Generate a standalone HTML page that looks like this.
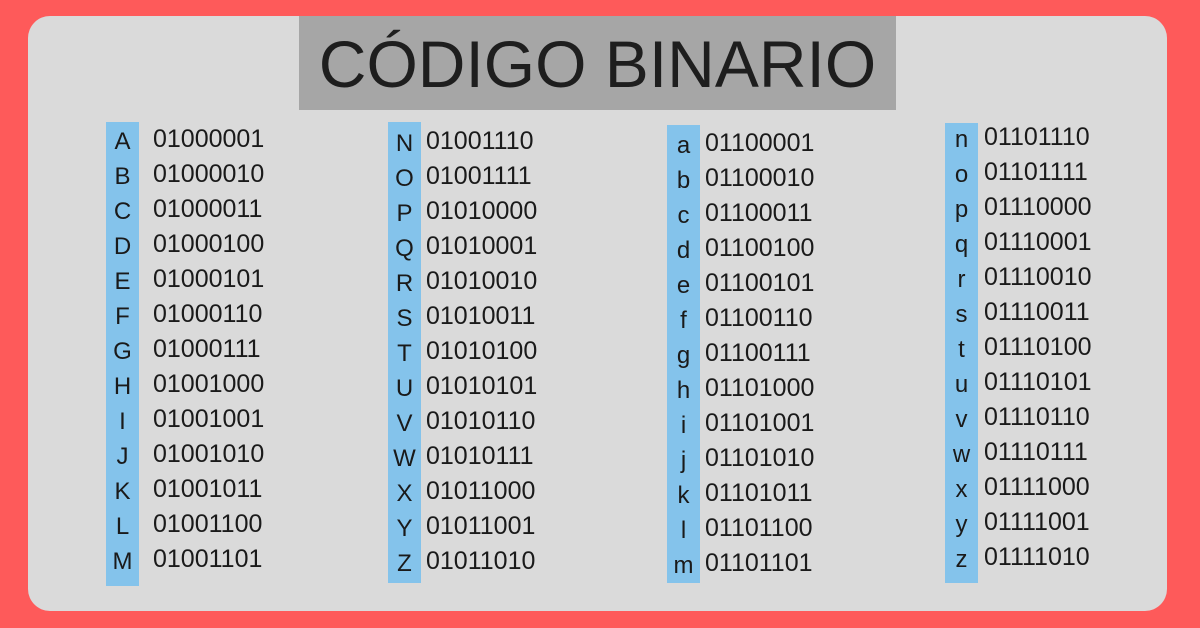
<!DOCTYPE html>
<html><head><meta charset="utf-8"><style>
body{margin:0;width:1200px;height:628px;background:#fe5a5a;position:relative;overflow:hidden;font-family:"Liberation Sans",sans-serif;color:#1a1a1a}
.card{position:absolute;left:28px;top:16px;width:1139px;height:595px;background:#dadada;border-radius:22px}
.title{position:absolute;left:299px;top:16px;width:597px;height:94px;background:#a6a6a6;font-size:66px;line-height:96px;text-align:center;color:#1e1e1e}
.strip{position:absolute;width:33px;background:#84c3eb}
.row{position:absolute;height:35px;line-height:35px;font-size:25px}
.l{position:absolute;width:33px;text-align:center;font-size:24px}
</style></head><body>
<div class="card"></div>
<div class="title">CÓDIGO BINARIO</div>
<div class="strip" style="left:106px;top:122px;height:464px"></div>
<div class="strip" style="left:388px;top:122px;height:461px"></div>
<div class="strip" style="left:667px;top:125px;height:458px"></div>
<div class="strip" style="left:945px;top:123px;height:460px"></div>
<div id="c"></div>
<script>
var cols=[[106,153,124,"ABCDEFGHIJKLM",65],[388,426,126,"NOPQRSTUVWXYZ",78],[667,705,128,"abcdefghijklm",97],[945,984,122,"nopqrstuvwxyz",110]];
var h="";
cols.forEach(function(c){for(var i=0;i<13;i++){var y=c[2]+i*35;var b=(c[4]+i).toString(2).padStart(8,"0");
h+='<div class="row l" style="left:'+c[0]+'px;top:'+y+'px">'+c[3][i]+'</div><div class="row" style="left:'+c[1]+'px;top:'+(y-2)+'px">'+b+'</div>';}});
document.getElementById("c").innerHTML=h;
</script>
</body></html>
